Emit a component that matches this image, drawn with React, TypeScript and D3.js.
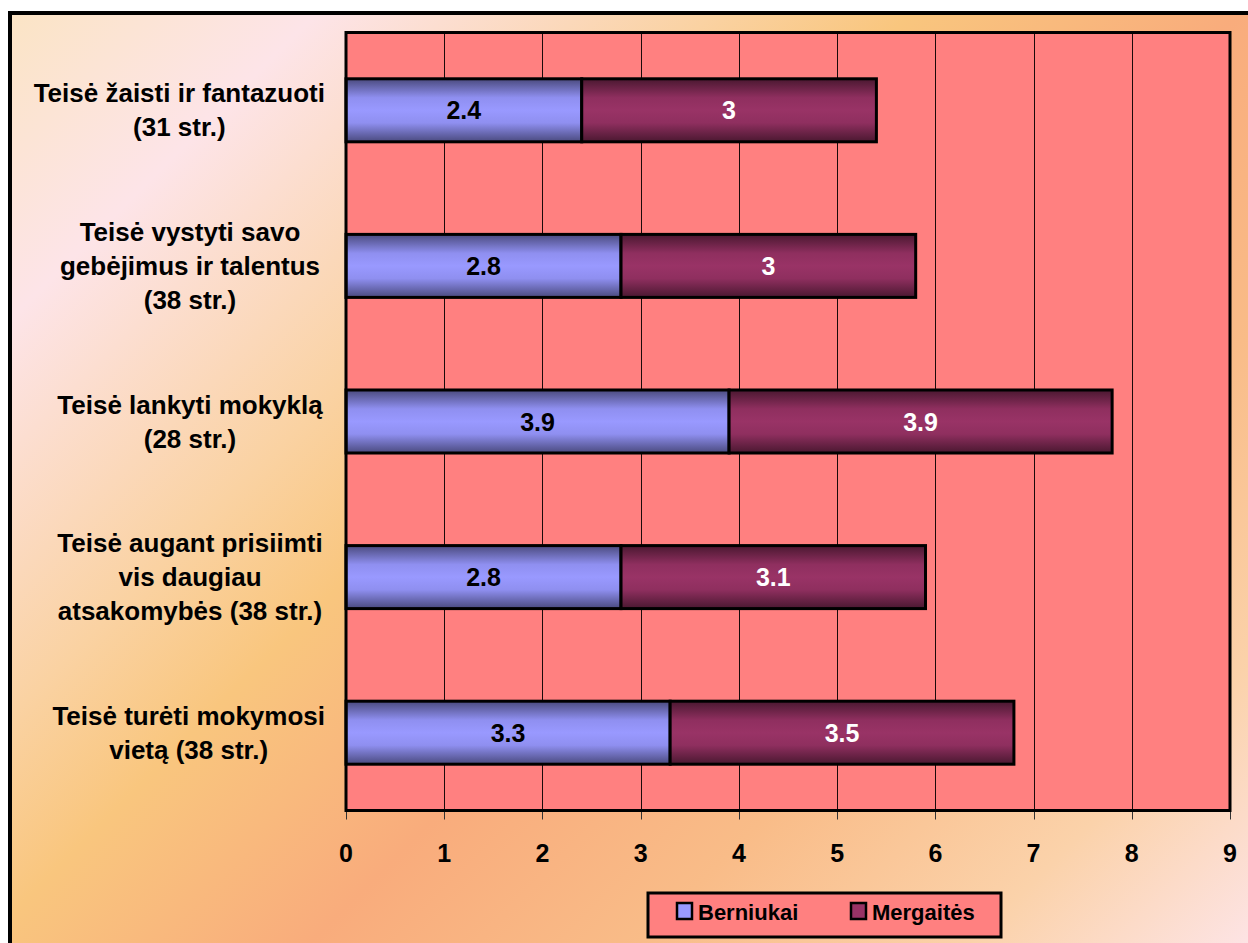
import React, { useEffect, useRef } from "react";
import * as d3 from "d3";

const categories: string[][] = [
  ["Teisė žaisti ir fantazuoti", "(31 str.)"],
  ["Teisė vystyti savo", "gebėjimus ir talentus", "(38 str.)"],
  ["Teisė lankyti mokyklą", "(28 str.)"],
  ["Teisė augant prisiimti", "vis daugiau", "atsakomybės (38 str.)"],
  ["Teisė turėti mokymosi", "vietą (38 str.)"],
];
const berniukai = [2.4, 2.8, 3.9, 2.8, 3.3];
const mergaites = [3, 3, 3.9, 3.1, 3.5];
const seriesNames = ["Berniukai", "Mergaitės"];
const xTicks = [0, 1, 2, 3, 4, 5, 6, 7, 8, 9];

const FONT = "'Liberation Sans', Arial, sans-serif";

export default function App() {
  const ref = useRef<SVGSVGElement | null>(null);

  useEffect(() => {
    const svg = d3.select(ref.current);
    svg.selectAll("*").remove();

    const W = 1248, H = 943;
    const plot = { x0: 346, x1: 1230, y0: 32.5, y1: 810.5 };

    const x = d3.scaleLinear().domain([0, 9]).range([plot.x0, plot.x1]);
    const y = d3
      .scaleBand<number>()
      .domain(categories.map((_, i) => i))
      .range([plot.y0, plot.y1])
      .padding(0);
    const barH = y.bandwidth() * 0.405;

    const defs = svg.append("defs");
    const bg = defs
      .append("linearGradient")
      .attr("id", "bg")
      .attr("gradientUnits", "userSpaceOnUse")
      .attr("x1", 0).attr("y1", 0).attr("x2", 1100).attr("y2", 1100);
    [
      [0, "#fbe4c2"],
      [0.15, "#fde4e8"],
      [0.33, "#fad2a2"],
      [0.42, "#f9c67e"],
      [0.57, "#f9ac7c"],
      [0.72, "#f9bc88"],
      [0.87, "#fbd2aa"],
      [1, "#fde4e6"],
    ].forEach(([o, c]) => bg.append("stop").attr("offset", o as number).attr("stop-color", c as string));

    const mkBarGrad = (id: string, edge: string, mid: string, center: string) => {
      const g = defs.append("linearGradient").attr("id", id)
        .attr("x1", 0).attr("y1", 0).attr("x2", 0).attr("y2", 1);
      [[0, edge], [0.3, mid], [0.5, center], [0.7, mid], [1, edge]].forEach(([o, c]) =>
        g.append("stop").attr("offset", o as number).attr("stop-color", c as string));
    };
    mkBarGrad("gB", "#4a4a7e", "#8f8ff0", "#9999ff");
    mkBarGrad("gM", "#4a1830", "#8f2f5f", "#993366");

    // outer chart area
    svg.append("rect")
      .attr("x", 10).attr("y", 13).attr("width", 1400).attr("height", 1100)
      .attr("fill", "url(#bg)").attr("stroke", "#000").attr("stroke-width", 4);

    // plot area
    svg.append("rect")
      .attr("x", plot.x0).attr("y", plot.y0)
      .attr("width", plot.x1 - plot.x0).attr("height", plot.y1 - plot.y0)
      .attr("fill", "#ff8080");

    // gridlines
    svg.append("g").selectAll("line")
      .data(xTicks.filter((t) => t > 0 && t < 9))
      .join("line")
      .attr("x1", (d) => Math.round(x(d)) + 0.5).attr("x2", (d) => Math.round(x(d)) + 0.5)
      .attr("y1", plot.y0).attr("y2", plot.y1)
      .attr("stroke", "#1a0a0a").attr("stroke-width", 1);

    // tick marks
    svg.append("g").selectAll("line")
      .data(xTicks)
      .join("line")
      .attr("x1", (d) => Math.round(x(d)) + 0.5).attr("x2", (d) => Math.round(x(d)) + 0.5)
      .attr("y1", plot.y1).attr("y2", plot.y1 + 9)
      .attr("stroke", "#333").attr("stroke-width", 1);

    // tick labels
    svg.append("g").selectAll("text")
      .data(xTicks)
      .join("text")
      .attr("x", (d) => x(d)).attr("y", 862)
      .attr("text-anchor", "middle")
      .attr("font-family", FONT).attr("font-weight", "bold").attr("font-size", 25)
      .attr("fill", "#000")
      .text((d) => String(d));

    // stacked bars
    const rows = categories.map((_, i) => ({ i, Berniukai: berniukai[i], Mergaitės: mergaites[i] }));
    const stack = d3.stack<any>().keys(seriesNames)(rows);
    const fills = ["url(#gB)", "url(#gM)"];
    const labelColors = ["#000", "#fff"];

    stack.forEach((layer, si) => {
      const g = svg.append("g");
      g.selectAll("rect")
        .data(layer)
        .join("rect")
        .attr("x", (d) => x(d[0]))
        .attr("y", (d: any) => (y(d.data.i) as number) + (y.bandwidth() - barH) / 2)
        .attr("width", (d) => x(d[1]) - x(d[0]))
        .attr("height", barH)
        .attr("fill", fills[si])
        .attr("stroke", "#000").attr("stroke-width", 3);
    });
    stack.forEach((layer, si) => {
      svg.append("g").selectAll("text")
        .data(layer)
        .join("text")
        .attr("x", (d) => (x(d[0]) + x(d[1])) / 2)
        .attr("y", (d: any) => (y(d.data.i) as number) + y.bandwidth() / 2 + 9)
        .attr("text-anchor", "middle")
        .attr("font-family", FONT).attr("font-weight", "bold").attr("font-size", 25)
        .attr("fill", labelColors[si])
        .text((d) => String(+(d[1] - d[0]).toFixed(1)));
    });

    // plot border
    svg.append("rect")
      .attr("x", plot.x0).attr("y", plot.y0)
      .attr("width", plot.x1 - plot.x0).attr("height", plot.y1 - plot.y0)
      .attr("fill", "none").attr("stroke", "#000").attr("stroke-width", 3);

    // category labels
    const lineH = 34;
    categories.forEach((lines, i) => {
      const cy = (y(i) as number) + y.bandwidth() / 2;
      const g = svg.append("g");
      const texts = g.selectAll("text")
        .data(lines)
        .join("text")
        .attr("y", (_, k) => cy - ((lines.length - 1) / 2) * lineH + k * lineH + 9)
        .attr("text-anchor", "middle")
        .attr("font-family", FONT).attr("font-weight", "bold").attr("font-size", 26)
        .attr("fill", "#000")
        .text((d) => d);
      let maxW = 0;
      texts.each(function () {
        maxW = Math.max(maxW, (this as SVGTextElement).getComputedTextLength());
      });
      const cx = Math.min(190, 325 - maxW / 2);
      texts.attr("x", cx);
    });

    // legend
    const lg = svg.append("g");
    lg.append("rect")
      .attr("x", 648).attr("y", 893).attr("width", 353).attr("height", 44)
      .attr("fill", "#ff8080").attr("stroke", "#000").attr("stroke-width", 3);
    const legendX = [677, 851];
    const swFill = ["#9999ff", "#993366"];
    seriesNames.forEach((name, i) => {
      lg.append("rect")
        .attr("x", legendX[i]).attr("y", 903).attr("width", 15).attr("height", 16)
        .attr("fill", swFill[i]).attr("stroke", "#000").attr("stroke-width", 2.5);
      lg.append("text")
        .attr("x", legendX[i] + 21).attr("y", 920)
        .attr("font-family", FONT).attr("font-weight", "bold").attr("font-size", 22)
        .attr("fill", "#000")
        .text(name);
    });
  }, []);

  return (
    <svg
      ref={ref}
      width={1248}
      height={943}
      style={{ position: "absolute", left: 0, top: 0, display: "block" }}
    />
  );
}
